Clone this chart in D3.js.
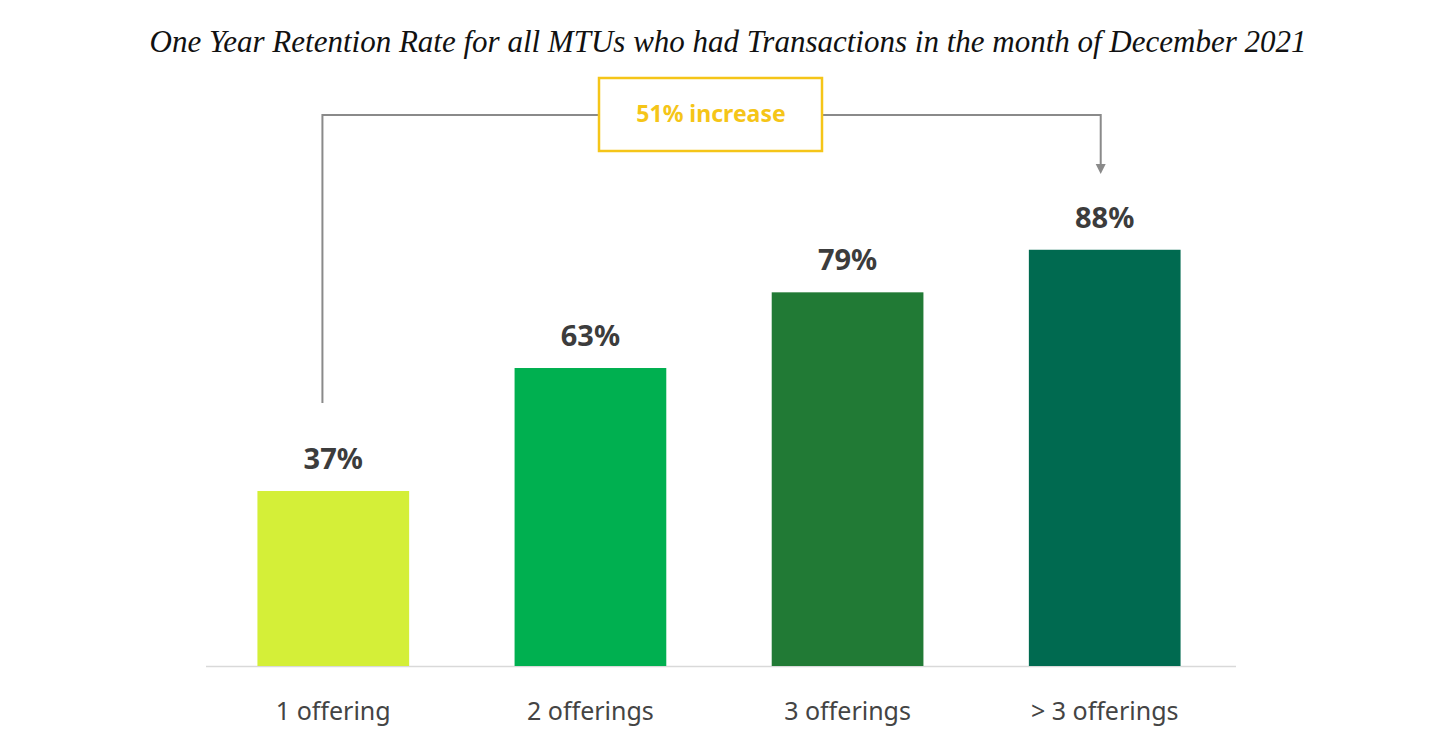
<!DOCTYPE html>
<html><head><meta charset="utf-8">
<script src="https://cdn.jsdelivr.net/npm/d3@7"></script>
<style>body{margin:0;background:#fff}</style>
</head><body>
<svg id="chart" width="1456" height="752"></svg>
<script>
const categories = ["1 offering", "2 offerings", "3 offerings", "> 3 offerings"];
const values = [37, 63, 79, 88];
const colors = ["#d4ef38", "#00b050", "#217a35", "#006a50"];
const annotation = "51% increase";

const svg = d3.select("#chart");
const baseY = 666;

const x = d3.scaleBand().domain(categories).range([206, 1232]).paddingInner(0.41).paddingOuter(0.2);
const y = d3.scaleLinear().domain([0, 100]).range([baseY, 193]);

// title
svg.append("text").attr("x", 728).attr("y", 52).attr("text-anchor", "middle")
  .style("font-family", "Liberation Serif, Times New Roman, serif").style("font-style", "italic")
  .style("font-size", "31px").attr("fill", "#111")
  .text("One Year Retention Rate for all MTUs who had Transactions in the month of December 2021");

// baseline
svg.append("line").attr("x1", 206).attr("x2", 1236).attr("y1", baseY + 0.5).attr("y2", baseY + 0.5)
  .attr("stroke", "#d9d9d9").attr("stroke-width", 1.5);

svg.selectAll(".bar").data(values).enter().append("rect")
  .attr("x", (d, i) => x(categories[i])).attr("width", x.bandwidth())
  .attr("y", d => y(d)).attr("height", d => baseY - y(d))
  .attr("fill", (d, i) => colors[i]);

svg.selectAll(".val").data(values).enter().append("text")
  .attr("x", (d, i) => x(categories[i]) + x.bandwidth() / 2).attr("y", d => y(d) - 22)
  .attr("text-anchor", "middle").style("font-family", "Noto Sans, sans-serif")
  .style("font-weight", "bold").style("font-size", "29px").attr("fill", "#3c3c3c")
  .text(d => d + "%");

svg.selectAll(".cat").data(categories).enter().append("text")
  .attr("x", d => x(d) + x.bandwidth() / 2).attr("y", 720)
  .attr("text-anchor", "middle").style("font-family", "Noto Sans, sans-serif")
  .style("font-size", "25px").attr("fill", "#444").text(d => d);

// annotation bracket
const x0 = x(categories[0]) + 65, x3 = x(categories[3]) + x.bandwidth() / 2 - 4;
const topY = 115;
svg.append("path").attr("d", `M${x0},${y(values[0]) - 88} V${topY} H598 M823,${topY} H${x3} V166`)
  .attr("fill", "none").attr("stroke", "#8a8a8a").attr("stroke-width", 2);
svg.append("path").attr("d", `M${x3 - 5},164 L${x3 + 5},164 L${x3},174 Z`).attr("fill", "#8a8a8a");
svg.append("rect").attr("x", 599).attr("y", 78).attr("width", 223).attr("height", 73)
  .attr("fill", "#fff").attr("stroke", "#f5c518").attr("stroke-width", 2.5);
svg.append("text").attr("x", 711).attr("y", 122).attr("text-anchor", "middle")
  .style("font-family", "Noto Sans, sans-serif").style("font-weight", "bold")
  .style("font-size", "23px").attr("fill", "#f5c518").text(annotation);
</script>
</body></html>
